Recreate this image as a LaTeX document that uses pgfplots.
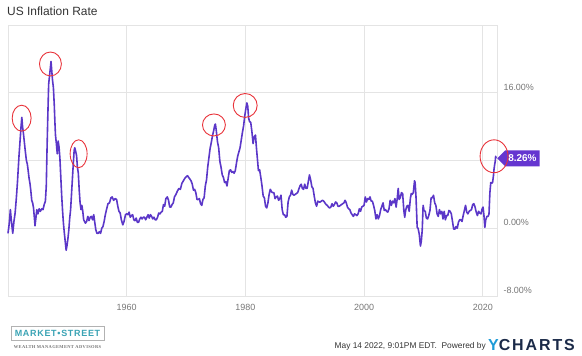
\documentclass[border=0pt]{standalone}
\usepackage{fontspec}
\setmainfont{Liberation Sans}
\newfontfamily\spacedsans[LetterSpace=8]{Liberation Sans}
\newfontfamily\ychfont[LetterSpace=12]{Liberation Sans}
\newfontfamily\spacedserif[LetterSpace=8]{Liberation Serif}
\usepackage{pgfplots}
\usepackage{pgfplotstable}
\pgfplotsset{compat=1.18}
\usetikzlibrary{shapes.symbols}
\definecolor{linepurple}{HTML}{5B37C8}
\definecolor{flagpurple}{HTML}{6536D0}
\definecolor{gridgray}{HTML}{E4E4E4}
\definecolor{ticktxt}{HTML}{777777}
\definecolor{titlegray}{HTML}{333333}
\definecolor{circred}{HTML}{E8333A}
\definecolor{mkteal}{HTML}{3AA3B4}
\definecolor{ychblue}{HTML}{1E9BD7}
\definecolor{ychnavy}{HTML}{1B2A48}

\pgfplotstableread{
year val
1940.00 -0.6
1940.20 0.5
1940.40 2.2
1940.55 1.0
1940.80 -0.6
1941.00 0.8
1941.20 1.8
1941.40 3.5
1941.60 5.5
1941.85 8.5
1942.05 10.5
1942.20 12.0
1942.33 13.1
1942.45 12.0
1942.60 11.2
1942.75 10.2
1942.90 9.2
1943.10 8.0
1943.25 7.6
1943.40 6.8
1943.55 5.9
1943.70 5.3
1943.85 4.4
1944.00 3.3
1944.15 3.0
1944.30 2.4
1944.45 1.2
1944.55 0.3
1944.70 1.2
1944.85 2.2
1945.05 1.7
1945.25 2.3
1945.45 2.0
1945.70 2.3
1945.90 2.2
1946.10 2.8
1946.30 3.2
1946.45 5.0
1946.55 8.5
1946.70 13.0
1946.85 17.0
1947.00 18.0
1947.15 19.0
1947.25 19.7
1947.35 18.8
1947.50 17.5
1947.65 16.6
1947.80 14.5
1947.90 12.6
1948.00 11.0
1948.15 10.0
1948.30 8.8
1948.45 10.3
1948.60 9.6
1948.75 8.2
1948.90 6.0
1949.05 3.8
1949.20 2.0
1949.35 0.5
1949.50 -0.6
1949.65 -1.6
1949.80 -2.6
1949.95 -2.0
1950.10 -1.2
1950.25 -0.2
1950.40 1.2
1950.55 2.2
1950.70 4.0
1950.85 5.8
1951.00 7.6
1951.15 9.2
1951.25 9.5
1951.40 9.1
1951.55 8.6
1951.70 7.2
1951.85 6.5
1952.00 4.5
1952.15 3.0
1952.30 2.2
1952.45 2.7
1952.60 2.0
1952.75 1.0
1952.90 0.8
1953.05 0.6
1953.25 0.8
1953.45 1.4
1953.65 0.9
1953.85 1.3
1954.05 1.4
1954.25 1.0
1954.45 1.6
1954.60 0.8
1954.80 -0.2
1955.00 -0.6
1955.20 -0.6
1955.40 -0.4
1955.60 -0.6
1955.80 0.0
1956.00 0.2
1956.20 0.8
1956.40 1.6
1956.60 2.2
1956.85 2.9
1957.10 3.0
1957.35 3.6
1957.55 3.7
1957.80 3.3
1958.05 3.5
1958.30 3.4
1958.50 2.6
1958.70 2.0
1958.90 1.8
1959.10 1.0
1959.35 0.4
1959.55 0.8
1959.80 1.6
1960.00 1.7
1960.20 1.6
1960.40 1.9
1960.60 1.3
1960.80 1.5
1961.00 1.6
1961.20 1.0
1961.40 0.9
1961.60 1.2
1961.80 0.7
1962.00 0.7
1962.20 1.1
1962.40 1.3
1962.60 1.1
1962.80 1.3
1963.00 1.3
1963.20 1.0
1963.40 1.3
1963.60 1.6
1963.80 1.2
1964.00 1.6
1964.20 1.4
1964.40 1.1
1964.60 1.3
1964.80 1.0
1965.00 1.0
1965.20 1.3
1965.40 1.8
1965.60 1.7
1965.80 1.9
1966.00 2.0
1966.20 2.8
1966.40 2.6
1966.60 3.5
1966.85 3.7
1967.05 3.3
1967.25 2.5
1967.45 2.5
1967.65 2.8
1967.85 3.0
1968.05 3.7
1968.30 4.0
1968.55 4.4
1968.80 4.7
1969.05 4.6
1969.30 5.3
1969.55 5.6
1969.80 5.9
1970.05 6.1
1970.25 6.2
1970.45 6.0
1970.65 5.8
1970.85 5.6
1971.05 5.2
1971.25 4.5
1971.45 4.6
1971.65 4.2
1971.85 3.4
1972.05 3.4
1972.25 3.5
1972.45 2.9
1972.65 2.7
1972.85 3.4
1973.05 3.6
1973.25 5.0
1973.45 5.7
1973.65 7.2
1973.85 8.3
1974.05 9.4
1974.25 10.1
1974.45 10.9
1974.65 11.5
1974.85 12.2
1974.95 12.3
1975.10 11.5
1975.30 10.2
1975.50 9.5
1975.70 7.9
1975.90 7.2
1976.10 6.3
1976.30 6.0
1976.50 5.4
1976.70 5.5
1976.90 5.0
1977.10 5.9
1977.30 6.8
1977.50 6.9
1977.70 6.6
1977.90 6.7
1978.10 6.5
1978.30 6.8
1978.50 7.7
1978.70 8.5
1978.90 9.0
1979.10 9.5
1979.30 10.4
1979.50 11.3
1979.70 12.1
1979.90 13.3
1980.10 14.2
1980.25 14.8
1980.40 14.4
1980.55 13.0
1980.70 12.6
1980.90 12.5
1981.10 11.4
1981.30 10.0
1981.50 10.8
1981.70 11.0
1981.85 9.6
1982.00 8.4
1982.20 6.8
1982.40 6.9
1982.60 6.0
1982.80 5.0
1983.00 3.8
1983.20 3.6
1983.40 2.6
1983.60 2.4
1983.80 3.0
1984.00 4.0
1984.20 4.6
1984.40 4.3
1984.60 4.2
1984.80 4.2
1985.00 3.5
1985.20 3.7
1985.40 3.8
1985.60 3.3
1985.80 3.5
1986.00 3.9
1986.20 2.2
1986.40 1.6
1986.60 1.6
1986.80 1.3
1987.00 1.4
1987.20 3.1
1987.40 3.7
1987.60 3.9
1987.80 4.5
1988.00 4.0
1988.20 3.9
1988.40 4.0
1988.60 4.1
1988.80 4.2
1989.00 4.6
1989.20 5.0
1989.40 5.2
1989.60 4.7
1989.80 4.6
1990.00 5.2
1990.20 4.7
1990.40 4.7
1990.60 5.5
1990.80 6.3
1991.00 5.7
1991.20 4.9
1991.40 4.7
1991.60 3.8
1991.80 3.0
1992.00 2.6
1992.20 3.2
1992.40 3.1
1992.60 3.1
1992.80 3.2
1993.00 3.3
1993.20 3.2
1993.40 3.0
1993.60 2.8
1993.80 2.7
1994.00 2.5
1994.20 2.4
1994.40 2.5
1994.60 2.9
1994.80 2.6
1995.00 2.8
1995.20 3.1
1995.40 3.0
1995.60 2.6
1995.80 2.6
1996.00 2.7
1996.20 2.8
1996.40 2.9
1996.60 3.0
1996.80 3.3
1997.00 3.0
1997.20 2.5
1997.40 2.3
1997.60 2.2
1997.80 1.8
1998.00 1.6
1998.20 1.4
1998.40 1.7
1998.60 1.6
1998.80 1.5
1999.00 1.7
1999.20 2.3
1999.40 2.0
1999.60 2.5
1999.80 2.6
2000.00 2.7
2000.20 3.7
2000.40 3.1
2000.60 3.5
2000.80 3.4
2001.00 3.7
2001.20 3.2
2001.40 3.2
2001.60 2.7
2001.80 2.1
2002.00 1.1
2002.20 1.6
2002.40 1.1
2002.60 1.5
2002.80 2.2
2003.00 2.6
2003.20 3.0
2003.40 2.1
2003.60 2.2
2003.80 2.0
2004.00 1.9
2004.20 2.3
2004.40 3.3
2004.60 2.7
2004.80 3.2
2005.00 3.0
2005.20 3.5
2005.40 2.5
2005.60 3.6
2005.75 4.7
2005.90 3.4
2006.10 3.6
2006.30 4.2
2006.50 4.1
2006.70 2.1
2006.85 1.3
2007.00 2.1
2007.20 2.6
2007.40 2.7
2007.60 2.0
2007.80 3.5
2007.95 4.1
2008.10 4.0
2008.30 4.2
2008.50 5.6
2008.60 5.4
2008.75 3.7
2008.95 0.1
2009.10 0.0
2009.30 -0.7
2009.50 -2.1
2009.65 -1.5
2009.80 -0.2
2009.95 2.7
2010.10 2.1
2010.30 2.0
2010.50 1.2
2010.70 1.1
2010.90 1.5
2011.10 2.1
2011.30 3.6
2011.50 3.6
2011.70 3.9
2011.90 3.0
2012.10 2.7
2012.30 1.7
2012.50 1.4
2012.70 2.2
2012.90 1.7
2013.10 2.0
2013.30 1.1
2013.50 2.0
2013.70 1.0
2013.90 1.5
2014.10 1.5
2014.30 2.1
2014.50 2.0
2014.70 1.7
2014.90 0.8
2015.10 -0.1
2015.30 -0.1
2015.50 0.2
2015.70 0.0
2015.90 0.7
2016.10 1.0
2016.30 1.0
2016.50 0.8
2016.70 1.5
2016.90 2.1
2017.10 2.7
2017.30 1.9
2017.50 1.7
2017.70 2.0
2017.90 2.1
2018.10 2.2
2018.30 2.8
2018.50 2.9
2018.70 2.5
2018.90 1.9
2019.10 1.5
2019.30 2.0
2019.50 1.8
2019.70 1.7
2019.90 2.3
2020.05 2.5
2020.20 1.5
2020.35 0.1
2020.50 1.0
2020.70 1.4
2020.90 1.4
2021.05 1.7
2021.20 4.2
2021.35 5.4
2021.50 5.3
2021.65 5.4
2021.80 6.2
2021.90 7.0
2022.00 7.5
2022.10 7.9
2022.17 8.5
2022.25 8.26
}\inflation

\begin{document}
\begin{tikzpicture}[x=1bp,y=1bp]
\useasboundingbox (0,0) rectangle (582,355);
\node[anchor=west, inner sep=0pt, font=\fontsize{12}{13}\selectfont, text=titlegray] at (7,343.5) {US Inflation Rate};
\begin{axis}[
  at={(8bp,59bp)}, anchor=south west,
  scale only axis, width=489bp, height=271bp,
  xmin=1940, xmax=2022.4, ymin=-8, ymax=24,
  clip=false,
  axis line style={draw=gridgray, line width=1bp},
  grid=major,
  grid style={draw=gridgray, line width=0.9bp},
  xtick={1960,1980,2000,2020},
  xticklabels={1960,1980,2000,2020},
  ytick={-8,0,8,16},
  yticklabels={-8.00\%,0.00\%,,16.00\%},
  yticklabel pos=right,
  major tick length=0pt,
  tick style={draw=none},
  /pgf/number format/assume math mode=true,
  ticklabel style={font=\fontsize{9}{10}\selectfont, text=ticktxt},
  xticklabel style={yshift=-5bp},
  yticklabel style={anchor=west, xshift=3bp, yshift=5.5bp},
]
\addplot[linepurple, line width=1.6bp, line join=round, mark=none] table[x=year, y=val] {\inflation};
\node[shape=signal, signal to=west, signal from=nowhere, fill=flagpurple, text=white,
      font=\bfseries\fontsize{10}{10}\selectfont, anchor=west, inner xsep=3bp, inner ysep=2bp,
      minimum height=16bp] at (axis cs:2022.4,8.26) {8.26\%};
\addplot[only marks, mark=o, mark size=10, mark options={draw=circred, line width=0.9bp, xscale=0.95, yscale=1.3}] coordinates {(1942.3,13.0)};
\addplot[only marks, mark=o, mark size=11, mark options={draw=circred, line width=0.9bp, yscale=1.09}] coordinates {(1947.15,19.4)};
\addplot[only marks, mark=o, mark size=10, mark options={draw=circred, line width=0.9bp, xscale=0.85, yscale=1.4}] coordinates {(1951.9,8.8)};
\addplot[only marks, mark=o, mark size=11.5, mark options={draw=circred, line width=0.9bp, yscale=0.96}] coordinates {(1974.7,12.2)};
\addplot[only marks, mark=o, mark size=12, mark options={draw=circred, line width=0.9bp}] coordinates {(1979.97,14.5)};
\addplot[only marks, mark=o, mark size=14, mark options={draw=circred, line width=0.9bp, yscale=1.18}] coordinates {(2021.9,8.5)};
\end{axis}
% footer
\draw[gray!60, line width=0.7bp] (11,15) rectangle (104,29);
\node[text=mkteal, inner sep=0pt, font=\spacedsans\bfseries\fontsize{9}{9}\selectfont] at (57.5,22) {MARKET\textbullet STREET};
\node[text=gray!90!black, inner sep=0pt, font=\spacedserif\bfseries\fontsize{4.5}{5}\selectfont] at (57.5,8) {WEALTH MANAGEMENT ADVISORS};
\node[anchor=east, inner sep=0pt, text=titlegray, font=\fontsize{8.4}{9}\selectfont] at (486,8.5) {May 14 2022, 9:01PM EDT.\ \ Powered by};
\node[anchor=west, inner sep=0pt, font=\ychfont\bfseries\fontsize{16}{16}\selectfont] at (488,9.5) {\textcolor{ychblue}{Y}\textcolor{ychnavy}{CHARTS}};
\end{tikzpicture}
\end{document}
